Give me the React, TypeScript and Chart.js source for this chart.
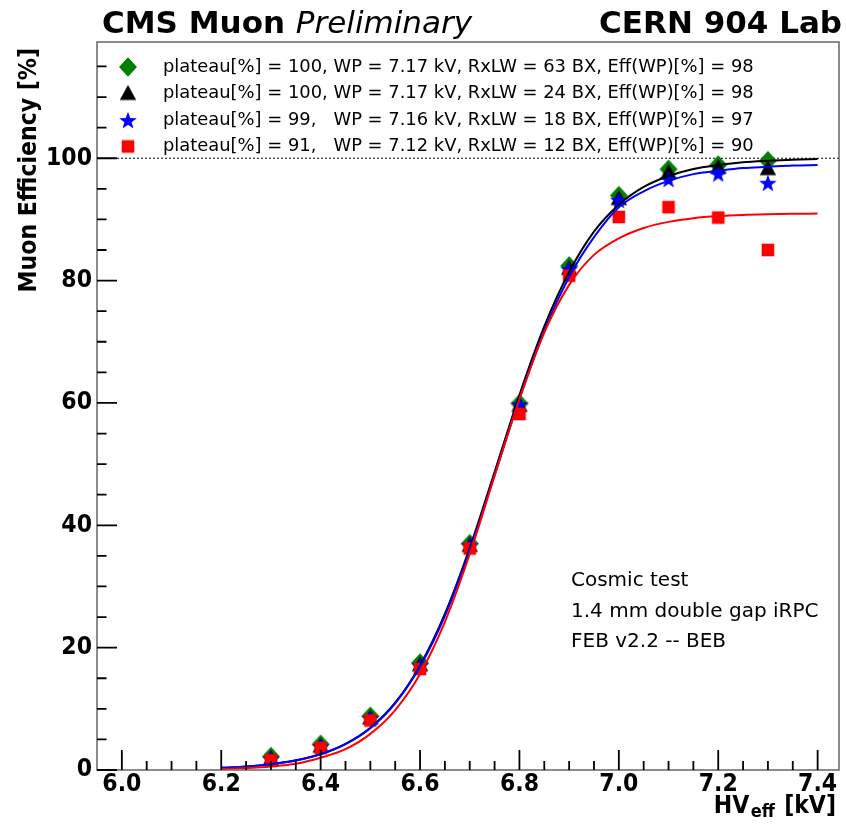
import React, { useEffect, useRef } from 'react';
import { Chart, registerables } from 'chart.js';

Chart.register(...registerables);

// ---------- data ----------
const HV_POINTS = [6.3, 6.4, 6.5, 6.6, 6.7, 6.8, 6.9, 7.0, 7.1, 7.2, 7.3];
const EFF_63BX = [2.2, 4.2, 8.8, 17.5, 37.0, 59.9, 82.4, 93.9, 98.2, 98.9, 99.6];
const EFF_24BX = [1.9, 3.9, 8.5, 17.2, 36.7, 59.6, 82.0, 93.4, 97.7, 98.5, 98.3];
const EFF_18BX = [1.9, 3.9, 8.5, 17.1, 36.8, 59.8, 81.9, 93.2, 96.6, 97.5, 96.0];
const EFF_12BX = [1.6, 3.6, 8.1, 16.5, 36.2, 58.2, 80.8, 90.4, 92.0, 90.3, 85.0];

const HV_FIT = [6.2, 6.25, 6.3, 6.35, 6.4, 6.45, 6.5, 6.55, 6.6, 6.65, 6.7, 6.75, 6.8, 6.85, 6.9, 6.95, 7.0, 7.05, 7.1, 7.15, 7.2, 7.25, 7.3, 7.35, 7.4];
const FIT_24BX = [0.35, 0.58, 0.96, 1.58, 2.6, 4.27, 6.91, 11.0, 17.1, 25.5, 36.3, 48.7, 61.3, 72.5, 81.4, 88.0, 92.4, 95.3, 97.1, 98.25, 98.9, 99.36, 99.6, 99.77, 99.86];
const FIT_18BX = [0.35, 0.57, 0.95, 1.56, 2.57, 4.23, 6.84, 10.9, 16.9, 25.2, 35.9, 48.2, 60.7, 71.8, 80.6, 87.1, 92.0, 94.6, 96.3, 97.4, 97.95, 98.4, 98.6, 98.8, 98.9];
const FIT_12BX = [0.18, 0.32, 0.57, 1.01, 2.0, 3.4, 5.9, 9.8, 15.7, 24.2, 35.3, 48.1, 60.6, 71.5, 79.3, 84.2, 86.9, 88.6, 89.6, 90.2, 90.54, 90.74, 90.85, 90.92, 90.95];

const X_TICKS = [6.0, 6.2, 6.4, 6.6, 6.8, 7.0, 7.2, 7.4];
const Y_TICKS = [0, 20, 40, 60, 80, 100];
const X_RANGE = [5.95, 7.443];
const Y_RANGE = [0, 119];
const PLATEAU_REF = 100;

const LEGEND_LABELS = [
  'plateau[%] = 100, WP = 7.17 kV, RxLW = 63 BX, Eff(WP)[%] = 98',
  'plateau[%] = 100, WP = 7.17 kV, RxLW = 24 BX, Eff(WP)[%] = 98',
  'plateau[%] = 99,   WP = 7.16 kV, RxLW = 18 BX, Eff(WP)[%] = 97',
  'plateau[%] = 91,   WP = 7.12 kV, RxLW = 12 BX, Eff(WP)[%] = 90',
];
const NOTE_LINES = ['Cosmic test', '1.4 mm double gap iRPC', 'FEB v2.2 -- BEB'];

const FONT = "'DejaVu Sans'";
const FONT_COND = "'DejaVu Sans Condensed', 'DejaVu Sans'";
const AXIS_SIZE = 24.5;

function makeMarker(kind: string, color: string): HTMLCanvasElement {
  const s = 24;
  const c = s / 2;
  const cv = document.createElement('canvas');
  cv.width = s;
  cv.height = s;
  const g = cv.getContext('2d')!;
  g.fillStyle = color;
  g.beginPath();
  if (kind === 'diamond') {
    g.moveTo(c, c - 9.7);
    g.lineTo(c + 9, c);
    g.lineTo(c, c + 9.7);
    g.lineTo(c - 9, c);
  } else if (kind === 'triangle') {
    g.moveTo(c, c - 8.5);
    g.lineTo(c + 8.2, c + 6.5);
    g.lineTo(c - 8.2, c + 6.5);
  } else if (kind === 'star') {
    for (let i = 0; i < 10; i++) {
      const r = i % 2 ? 3.8 : 9.2;
      const a = -Math.PI / 2 + (i * Math.PI) / 5;
      const px = c + r * Math.cos(a);
      const py = c + 1 + r * Math.sin(a);
      if (i === 0) g.moveTo(px, py);
      else g.lineTo(px, py);
    }
  } else {
    g.rect(c - 6.3, c - 6.3, 12.6, 12.6);
  }
  g.closePath();
  g.fill();
  return cv;
}

export default function App() {
  const ref = useRef<HTMLCanvasElement>(null);

  useEffect(() => {
    const markers = [
      makeMarker('diamond', '#008000'),
      makeMarker('triangle', '#000000'),
      makeMarker('star', '#0000ff'),
      makeMarker('square', '#ff0000'),
    ];
    const pts = (xs: number[], ys: number[]) => xs.map((x, i) => ({ x, y: ys[i] }));

    const decor = {
      id: 'decor',
      beforeDatasetsDraw(chart: any) {
        const { ctx, chartArea: a, scales } = chart;
        const y = scales.y.getPixelForValue(PLATEAU_REF);
        ctx.save();
        ctx.strokeStyle = '#000';
        ctx.lineWidth = 1;
        ctx.setLineDash([2, 2]);
        ctx.beginPath();
        ctx.moveTo(a.left, y);
        ctx.lineTo(a.right, y);
        ctx.stroke();
        ctx.restore();
      },
      afterDraw(chart: any) {
        const { ctx, chartArea: a, scales } = chart;
        const xs = scales.x;
        const ys = scales.y;
        ctx.save();
        // frame
        ctx.strokeStyle = '#666';
        ctx.lineWidth = 1.5;
        ctx.strokeRect(a.left, a.top, a.right - a.left, a.bottom - a.top);
        // ticks
        ctx.strokeStyle = '#000';
        ctx.lineWidth = 1.8;
        ctx.beginPath();
        for (let k = 0; k <= 28; k++) {
          const v = 6.0 + k * 0.05;
          const px = xs.getPixelForValue(v);
          const major = k % 4 === 0;
          ctx.moveTo(px, a.bottom);
          ctx.lineTo(px, a.bottom - (major ? 20 : 9));
        }
        for (let k = 0; k <= 23; k++) {
          const v = k * 5;
          const py = ys.getPixelForValue(v);
          const major = k % 4 === 0 && v <= 100;
          ctx.moveTo(a.left, py);
          ctx.lineTo(a.left + (major ? 20 : 9.5), py);
        }
        ctx.stroke();

        // header
        ctx.fillStyle = '#000';
        ctx.textBaseline = 'alphabetic';
        ctx.textAlign = 'left';
        ctx.font = `bold 31px ${FONT}`;
        const t1 = 'CMS Muon';
        ctx.fillText(t1, 102, 33);
        const w1 = ctx.measureText(t1 + ' ').width;
        ctx.font = `italic 31px ${FONT}`;
        ctx.fillText('Preliminary', 102 + w1, 33);
        ctx.font = `bold 31px ${FONT}`;
        ctx.textAlign = 'right';
        ctx.fillText('CERN 904 Lab', 842, 33);

        // y title
        ctx.save();
        ctx.translate(36, 48);
        ctx.rotate(-Math.PI / 2);
        ctx.font = `bold ${AXIS_SIZE}px ${FONT_COND}`;
        ctx.textAlign = 'right';
        ctx.fillText('Muon Efficiency [%]', 0, 0);
        ctx.restore();

        // x title: HV_eff [kV]
        ctx.textAlign = 'left';
        const subSize = 18;
        ctx.font = `bold ${AXIS_SIZE}px ${FONT_COND}`;
        const wHV = ctx.measureText('HV').width;
        const wKV = ctx.measureText(' [kV]').width;
        ctx.font = `bold ${subSize}px ${FONT_COND}`;
        const wEff = ctx.measureText('eff').width;
        const gap = 1.5;
        const xEnd = 836;
        const xb = 813;
        const x0 = xEnd - wKV - wEff - wHV - 2 * gap;
        ctx.font = `bold ${AXIS_SIZE}px ${FONT_COND}`;
        ctx.fillText('HV', x0, xb);
        ctx.font = `bold ${subSize}px ${FONT_COND}`;
        ctx.fillText('eff', x0 + wHV + gap, xb + 4);
        ctx.font = `bold ${AXIS_SIZE}px ${FONT_COND}`;
        ctx.fillText(' [kV]', x0 + wHV + 2 * gap + wEff, xb);

        // legend
        ctx.textBaseline = 'middle';
        ctx.font = `17.9px ${FONT}`;
        LEGEND_LABELS.forEach((lab, i) => {
          const cy = a.top + 25 + i * 26.5;
          const m = markers[i];
          ctx.drawImage(m, a.left + 31 - m.width / 2, cy - m.height / 2);
          ctx.fillText(lab, a.left + 66, cy);
        });

        // note
        ctx.font = `20px ${FONT}`;
        NOTE_LINES.forEach((ln, i) => {
          ctx.fillText(ln, 571, 580.5 + i * 30.8);
        });
        ctx.restore();
      },
    };

    const lineDs = (data: number[], color: string, order: number) => ({
      data: pts(HV_FIT, data),
      showLine: true,
      borderColor: color,
      borderWidth: 2,
      pointRadius: 0,
      cubicInterpolationMode: 'monotone',
      order,
    });
    const pointDs = (data: number[], m: HTMLCanvasElement, order: number) => ({
      data: pts(HV_POINTS, data),
      showLine: false,
      pointStyle: m,
      pointRadius: 6,
      order,
    });

    const chart = new Chart(ref.current!, {
      type: 'scatter',
      data: {
        datasets: [
          lineDs(FIT_12BX, '#ff0000', 0),
          lineDs(FIT_18BX, '#0000ff', 1),
          lineDs(FIT_24BX, '#000000', 2),
          pointDs(EFF_12BX, markers[3], 3),
          pointDs(EFF_18BX, markers[2], 4),
          pointDs(EFF_24BX, markers[1], 5),
          pointDs(EFF_63BX, markers[0], 6),
        ] as any,
      },
      options: {
        responsive: false,
        animation: false,
        events: [],
        layout: { padding: { top: 42, right: 3, left: 0, bottom: 0 } },
        plugins: { legend: { display: false }, tooltip: { enabled: false } },
        scales: {
          x: {
            type: 'linear',
            min: X_RANGE[0],
            max: X_RANGE[1],
            grid: { display: false, drawTicks: false },
            border: { display: false },
            ticks: {
              color: '#000',
              font: { family: FONT_COND, size: AXIS_SIZE, weight: 'bold' },
              padding: 0,
              maxRotation: 0,
              autoSkip: false,
              callback: (v: any) => Number(v).toFixed(1),
            },
            afterBuildTicks: (s: any) => {
              s.ticks = X_TICKS.map((v) => ({ value: v }));
            },
            afterFit: (s: any) => {
              s.height = 54;
            },
          },
          y: {
            type: 'linear',
            min: Y_RANGE[0],
            max: Y_RANGE[1],
            grid: { display: false, drawTicks: false },
            border: { display: false },
            ticks: {
              color: '#000',
              font: { family: FONT_COND, size: AXIS_SIZE, weight: 'bold' },
              padding: 5,
              autoSkip: false,
              callback: (v: any) => String(v),
            },
            afterBuildTicks: (s: any) => {
              s.ticks = Y_TICKS.map((v) => ({ value: v }));
            },
            afterFit: (s: any) => {
              s.width = 97;
            },
          },
        },
      } as any,
      plugins: [decor],
    });
    return () => chart.destroy();
  }, []);

  return (
    <div style={{ position: 'absolute', left: 0, top: 0, width: 846, height: 824, background: '#fff' }}>
      <canvas ref={ref} width={846} height={824} />
    </div>
  );
}
